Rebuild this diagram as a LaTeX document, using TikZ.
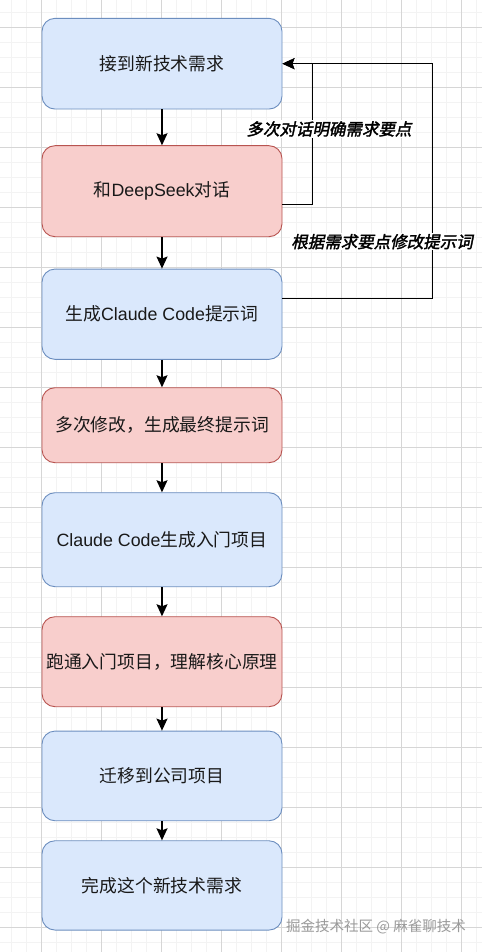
\documentclass[tikz,border=0pt]{standalone}
\usepackage{fontspec}
\setmainfont{Liberation Sans}
\newfontfamily\cjk{Noto Sans CJK SC}
\newfontfamily\cjklab{Noto Sans CJK SC}[FakeSlant=0.2,FakeBold=2]
\usetikzlibrary{arrows.meta}
\definecolor{bluefill}{HTML}{DAE8FC}
\definecolor{bluedraw}{HTML}{6C8EBF}
\definecolor{redfill}{HTML}{F8CECC}
\definecolor{reddraw}{HTML}{B85450}
\definecolor{gridminor}{HTML}{F3F3F3}
\definecolor{gridmajor}{HTML}{D6D6D6}
\definecolor{wmark}{HTML}{9A9A9A}
\begin{document}
\begin{tikzpicture}[x=1pt,y=-1pt,
  boxbase/.style={rounded corners=13pt, minimum width=240pt, line width=0.9pt, align=center, inner sep=2pt, text=black!90, font=\fontsize{17.8}{20}\selectfont},
  bluebox/.style={boxbase, fill=bluefill, draw=bluedraw},
  redbox/.style={boxbase, fill=redfill, draw=reddraw},
  arr/.style={line width=1.4pt, -{Stealth[length=12pt,width=11pt,inset=2pt]}},
  looplabel/.style={fill=white, inner sep=1pt, font=\cjklab\fontsize{16.5}{18}\selectfont}
]
\useasboundingbox (0,0) rectangle (482,952);
\fill[white] (0,0) rectangle (482,952);
% grid
\foreach \x in {11.7,26.7,...,482} \draw[gridminor, line width=0.8pt] (\x,0) -- (\x,952);
\foreach \y in {12.3,27.3,...,952} \draw[gridminor, line width=0.8pt] (0,\y) -- (482,\y);
\foreach \x in {41.7,101.7,...,482} \draw[gridmajor, line width=0.8pt] (\x,0) -- (\x,952);
\foreach \y in {27.3,87.3,...,952} \draw[gridmajor, line width=0.8pt] (0,\y) -- (482,\y);

\node[bluebox, minimum height=90.7pt] (b1) at (162,63.7) {\cjk 接到新技术需求};
\node[redbox, minimum height=91pt] (b2) at (162,191.2) {{\cjk 和}DeepSeek{\cjk 对话}};
\node[bluebox, minimum height=90.3pt] (b3) at (162,314.2) {{\cjk 生成}Claude Code{\cjk 提示词}};
\node[redbox, minimum height=75pt] (b4) at (162,425.2) {\cjk 多次修改，生成最终提示词};
\node[bluebox, minimum height=94pt] (b5) at (162,539.7) {Claude Code{\cjk 生成入门项目}};
\node[redbox, minimum height=90pt] (b6) at (162,661.7) {\cjk 跑通入门项目，理解核心原理};
\node[bluebox, minimum height=89.7pt] (b7) at (162,775.9) {\cjk 迁移到公司项目};
\node[bluebox, minimum height=89.3pt] (b8) at (162,885.4) {\cjk 完成这个新技术需求};

\draw[arr] (b1) -- (b2);
\draw[arr] (b2) -- (b3);
\draw[arr] (b3) -- (b4);
\draw[arr] (b4) -- (b5);
\draw[arr] (b5) -- (b6);
\draw[arr] (b6) -- (b7);
\draw[arr] (b7) -- (b8);

\draw[arr] ([yshift=-13.1pt]b2.east) -- ++(30.3,0) |- (b1.east);
\draw[arr] ([yshift=15.9pt]b3.east) -- ++(150.3,0) |- (b1.east);

\node[looplabel] (l1) at (329,129) {多次对话明确需求要点};
\node[looplabel] (l2) at (382,241.7) {根据需求要点修改提示词};

\node[anchor=east, text=wmark, inner sep=0pt, font=\cjk\fontsize{14.5}{16}\selectfont] (wm) at (466,927) {掘金技术社区 @ 麻雀聊技术};
\end{tikzpicture}
\end{document}
